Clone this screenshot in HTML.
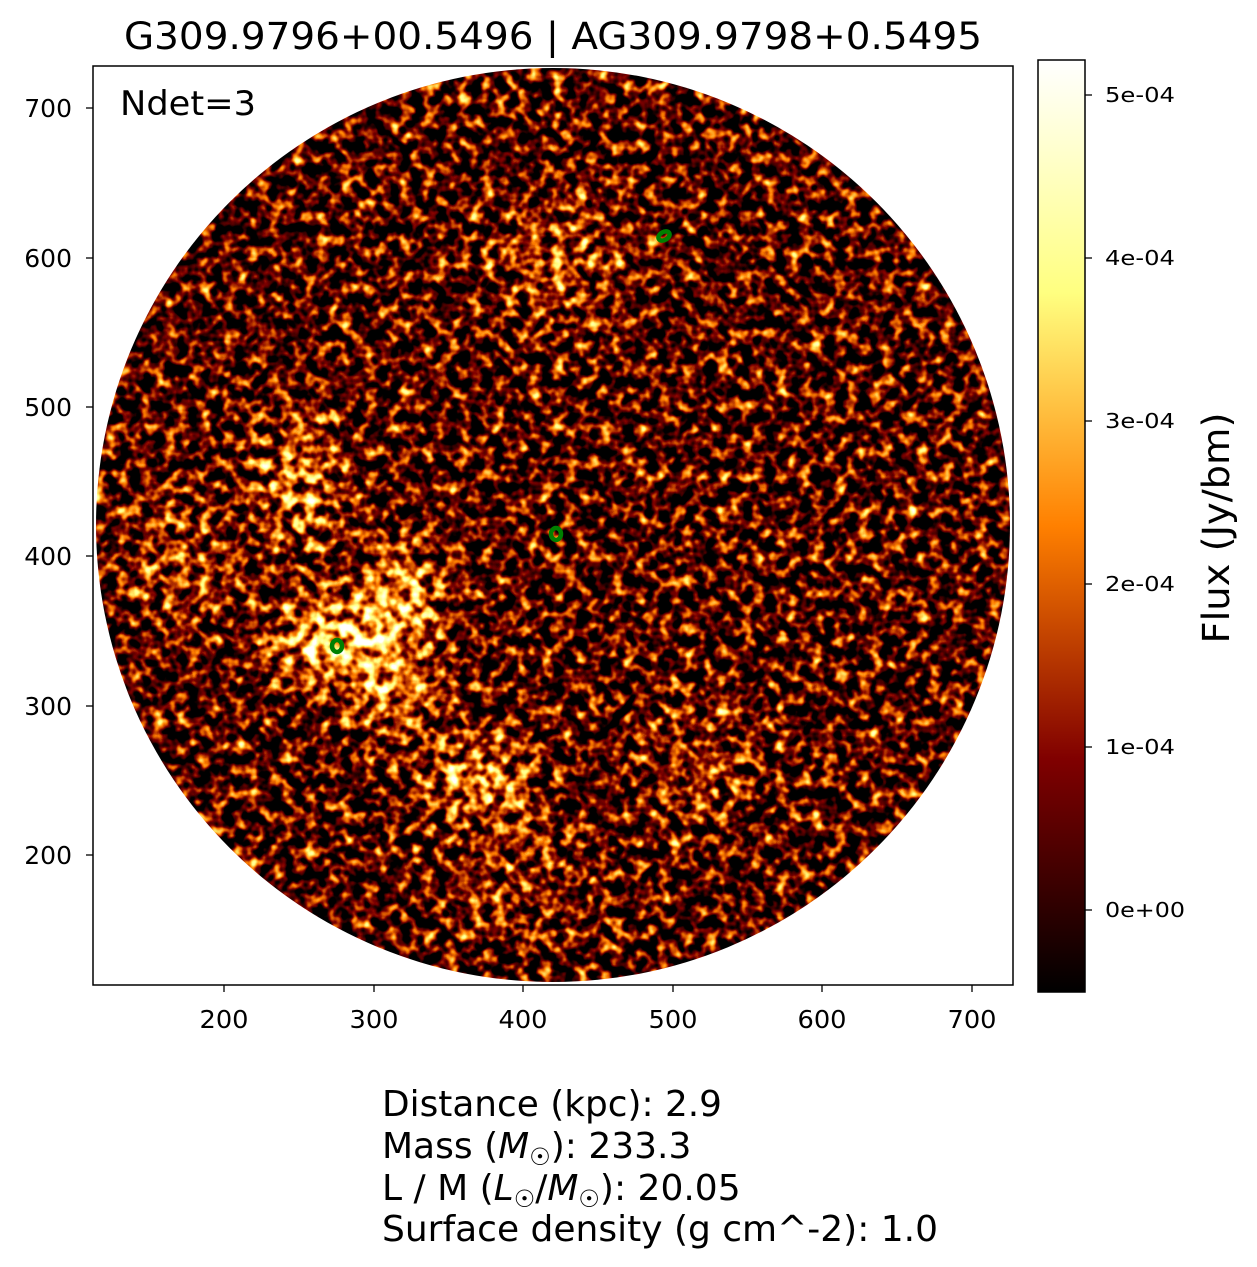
<!DOCTYPE html>
<html><head><meta charset="utf-8"><style>
body{margin:0;background:#fff;}
svg{display:block;font-family:"DejaVu Sans","Liberation Sans",sans-serif;}
</style></head><body>
<svg width="1257" height="1267" viewBox="0 0 1257 1267" xmlns="http://www.w3.org/2000/svg">
<defs>
<clipPath id="cc"><circle cx="553" cy="525" r="457"/></clipPath>
<filter id="af" x="0" y="0" width="100%" height="100%" color-interpolation-filters="sRGB">
<feTurbulence type="fractalNoise" baseFrequency="0.085" numOctaves="2" seed="7" result="n"/>
<feColorMatrix in="n" type="matrix" values="1 0 0 0 0 1 0 0 0 0 1 0 0 0 0 0 0 0 0 1" result="ng"/>
<feComposite in="SourceGraphic" in2="ng" operator="arithmetic" k1="0" k2="0.8" k3="1.9" k4="-0.88" result="s"/>
<feComponentTransfer in="s">
<feFuncR type="table" tableValues="0 0.5 1 1 1"/>
<feFuncG type="table" tableValues="0 0 0.5 1 1"/>
<feFuncB type="table" tableValues="0 0 0 0.5 1"/>
<feFuncA type="linear" slope="0" intercept="1"/>
</feComponentTransfer>
</filter>
<filter id="bl"><feGaussianBlur stdDeviation="22"/></filter>
<linearGradient id="cb" x1="0" y1="1" x2="0" y2="0">
<stop offset="0" stop-color="#000"/>
<stop offset="0.25" stop-color="#800000"/>
<stop offset="0.5" stop-color="#ff8000"/>
<stop offset="0.75" stop-color="#ffff80"/>
<stop offset="1" stop-color="#fff"/>
</linearGradient>
</defs>
<g clip-path="url(#cc)">
<g filter="url(#af)">
<rect x="96" y="68" width="915" height="915" fill="#1a1a1a"/>
<g filter="url(#bl)">
<ellipse cx="300" cy="480" rx="35" ry="70" fill="#888"/>
<ellipse cx="330" cy="640" rx="60" ry="35" fill="#c0c0c0"/>
<ellipse cx="400" cy="600" rx="40" ry="50" fill="#b0b0b0"/>
<ellipse cx="395" cy="690" rx="40" ry="40" fill="#999"/>
<ellipse cx="480" cy="780" rx="55" ry="35" fill="#a0a0a0"/>
<ellipse cx="180" cy="560" rx="50" ry="70" fill="#555"/>
<ellipse cx="560" cy="260" rx="60" ry="70" fill="#555"/>
<ellipse cx="520" cy="880" rx="70" ry="50" fill="#444"/>
<ellipse cx="700" cy="760" rx="60" ry="60" fill="#444"/>
<ellipse cx="337" cy="646" rx="18" ry="18" fill="#fff"/>
<ellipse cx="664" cy="236" rx="12" ry="12" fill="#777"/>
</g>
</g>
</g>
<g fill="none" stroke="#008000" stroke-width="4.5">
<ellipse cx="337" cy="646" rx="5" ry="6"/>
<ellipse cx="556" cy="534" rx="5" ry="6"/>
<ellipse cx="664" cy="236" rx="6" ry="4" transform="rotate(-30 664 236)"/>
</g>
<rect x="93" y="66" width="920" height="919" fill="none" stroke="#000" stroke-width="1.5"/>
<g stroke="#000" stroke-width="1.3">
<line x1="224" y1="985" x2="224" y2="992"/><line x1="374" y1="985" x2="374" y2="992"/><line x1="523" y1="985" x2="523" y2="992"/><line x1="673" y1="985" x2="673" y2="992"/><line x1="822" y1="985" x2="822" y2="992"/><line x1="972" y1="985" x2="972" y2="992"/>
<line x1="86" y1="108" x2="93" y2="108"/><line x1="86" y1="258" x2="93" y2="258"/><line x1="86" y1="407" x2="93" y2="407"/><line x1="86" y1="556" x2="93" y2="556"/><line x1="86" y1="706" x2="93" y2="706"/><line x1="86" y1="855" x2="93" y2="855"/>
</g>
<g font-size="25" text-anchor="middle" fill="#000">
<text x="224" y="1028" textLength="49" lengthAdjust="spacingAndGlyphs">200</text><text x="374" y="1028" textLength="49" lengthAdjust="spacingAndGlyphs">300</text><text x="523" y="1028" textLength="49" lengthAdjust="spacingAndGlyphs">400</text><text x="673" y="1028" textLength="49" lengthAdjust="spacingAndGlyphs">500</text><text x="822" y="1028" textLength="49" lengthAdjust="spacingAndGlyphs">600</text><text x="972" y="1028" textLength="49" lengthAdjust="spacingAndGlyphs">700</text>
</g>
<g font-size="25" text-anchor="end" fill="#000">
<text x="72" y="117">700</text><text x="72" y="267">600</text><text x="72" y="416">500</text><text x="72" y="565">400</text><text x="72" y="715">300</text><text x="72" y="864">200</text>
</g>
<text x="124" y="49" font-size="37" textLength="858" lengthAdjust="spacingAndGlyphs">G309.9796+00.5496 | AG309.9798+0.5495</text>
<text x="120" y="115" font-size="34" textLength="136" lengthAdjust="spacingAndGlyphs">Ndet=3</text>
<rect x="1038" y="60" width="47" height="932" fill="url(#cb)" stroke="#000" stroke-width="1.5"/>
<g stroke="#000" stroke-width="1.3">
<line x1="1085" y1="95" x2="1092" y2="95"/><line x1="1085" y1="258" x2="1092" y2="258"/><line x1="1085" y1="421" x2="1092" y2="421"/><line x1="1085" y1="584" x2="1092" y2="584"/><line x1="1085" y1="747" x2="1092" y2="747"/><line x1="1085" y1="910" x2="1092" y2="910"/>
</g>
<g font-size="20" fill="#000">
<text x="1105" y="102" textLength="70" lengthAdjust="spacingAndGlyphs">5e-04</text><text x="1105" y="265" textLength="70" lengthAdjust="spacingAndGlyphs">4e-04</text><text x="1105" y="428" textLength="70" lengthAdjust="spacingAndGlyphs">3e-04</text><text x="1105" y="591" textLength="70" lengthAdjust="spacingAndGlyphs">2e-04</text><text x="1105" y="754" textLength="70" lengthAdjust="spacingAndGlyphs">1e-04</text><text x="1105" y="917" textLength="80" lengthAdjust="spacingAndGlyphs">0e+00</text>
</g>
<text transform="translate(1229 528) rotate(-90)" font-size="37" text-anchor="middle" textLength="231" lengthAdjust="spacingAndGlyphs">Flux (Jy/bm)</text>
<g font-size="36" fill="#000">
<text x="382" y="1116" textLength="340" lengthAdjust="spacingAndGlyphs">Distance (kpc): 2.9</text>
<text x="382" y="1158">Mass (<tspan font-style="italic">M</tspan><tspan font-size="24" dy="7">☉</tspan><tspan dy="-7">): 233.3</tspan></text>
<text x="382" y="1200">L / M (<tspan font-style="italic">L</tspan><tspan font-size="24" dy="7">☉</tspan><tspan dy="-7">/</tspan><tspan font-style="italic">M</tspan><tspan font-size="24" dy="7">☉</tspan><tspan dy="-7">): 20.05</tspan></text>
<text x="382" y="1241" textLength="556" lengthAdjust="spacingAndGlyphs">Surface density (g cm^-2): 1.0</text>
</g>
</svg>
</body></html>
